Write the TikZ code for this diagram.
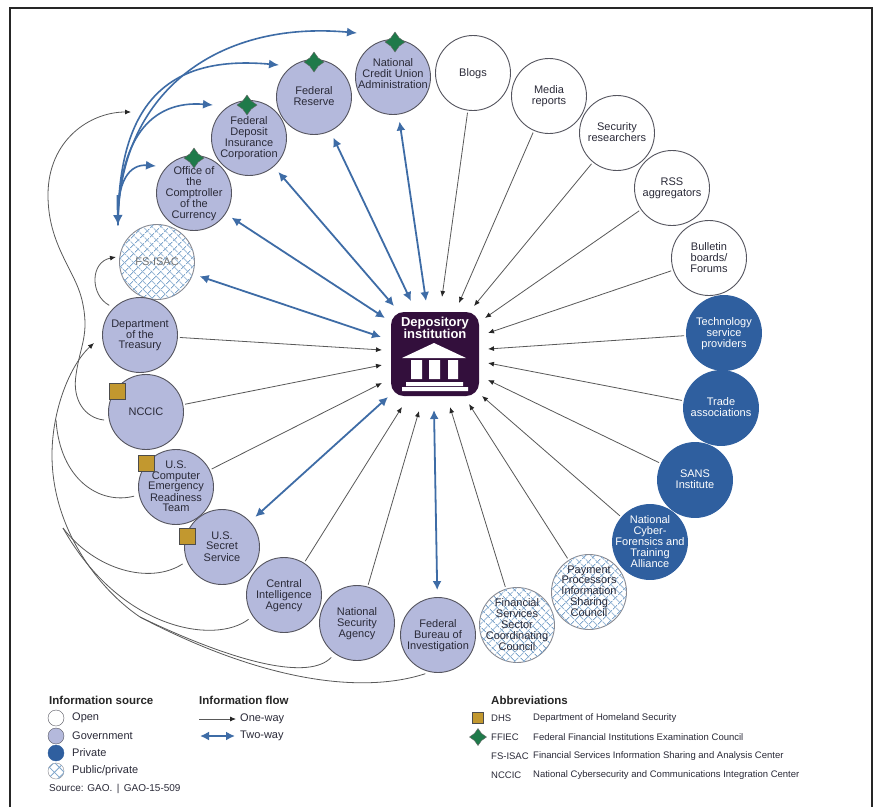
\documentclass[tikz,border=0pt]{standalone}
\usepackage{fontspec}
\setmainfont{Liberation Sans}
\usetikzlibrary{arrows.meta,shapes.geometric,patterns.meta}
\definecolor{govc}{HTML}{B4B9DC}
\definecolor{privc}{HTML}{2F5F9F}
\definecolor{twoc}{HTML}{3E6CA6}
\definecolor{hatchc}{HTML}{7FA6CC}
\definecolor{rimc}{HTML}{55555F}
\definecolor{goldc}{HTML}{C2982F}
\definecolor{greenc}{HTML}{1F7A4A}
\definecolor{boxc}{HTML}{330F3C}
\definecolor{inkc}{HTML}{2A2A38}
% text that does not widen the circle it sits in
\newcommand{\ct}[1]{\smash{\makebox[0pt]{\raisebox{-3.5pt}{\begin{tabular}{@{}c@{}}#1\end{tabular}}}}}
\tikzset{
  x=1pt,y=-1pt,
  src/.style={circle,draw=rimc,line width=.9pt,minimum size=75pt,inner sep=0pt,text=inkc,
    font=\fontsize{11}{10.4}\selectfont},
  openc/.style={src,fill=white},
  gov/.style={src,fill=govc},
  priv/.style={src,fill=privc,draw=privc,text=white},
  hatched/.style={src,fill=white,draw=rimc!70,
    postaction={pattern={Lines[angle=45,distance=6.5pt,line width=.8pt]},pattern color=hatchc},
    postaction={pattern={Lines[angle=-45,distance=6.5pt,line width=.8pt]},pattern color=hatchc}},
  oneway/.style={draw=black!65,line width=.8pt,-{Latex[length=6pt,width=5pt,black!85]},shorten <=2pt},
  curve/.style={oneway,shorten <=5pt},
  plaincurve/.style={draw=black!65,line width=.8pt,shorten <=5pt},
  twoway/.style={draw=twoc,line width=1.8pt,{Latex[length=9pt,width=9pt]}-{Latex[length=9pt,width=9pt]},shorten <=0pt},
  fanarrow/.style={draw=twoc,line width=1.6pt,-{Latex[length=10pt,width=9pt]}},
  dhs/.style={rectangle,draw=black!70,fill=goldc,line width=1pt,minimum size=16pt,inner sep=0pt},
  ffiec/.style={star,star points=4,star point ratio=1.7,draw=black!60,fill=greenc,line width=.4pt,minimum size=20pt,inner sep=0pt},
  lab/.style={anchor=west,inner sep=0pt,text=inkc,font=\fontsize{11}{12}\selectfont},
  head/.style={anchor=west,inner sep=0pt,text=black!85,font=\fontsize{11.5}{12}\selectfont\bfseries},
  abbr/.style={anchor=west,inner sep=0pt,text=inkc,font=\fontsize{9.5}{11}\selectfont},
}
\begin{document}
\begin{tikzpicture}
\useasboundingbox (0,0) rectangle (875,807);
\fill[white] (0,0) rectangle (875,807);
\draw[black!85,line width=2.4pt] (10,807) -- (10,8) -- (872,8) -- (872,807);

% centre
\node[rectangle,rounded corners=13pt,fill=boxc,minimum width=88pt,minimum height=84pt,inner sep=0pt] (box) at (435,354) {};
\node[text=white,align=center,inner sep=0pt,font=\fontsize{13}{12.5}\selectfont\bfseries] (boxlabel) at (435,328) {Depository\\institution};
\fill[white] (434,343) -- (466,358) -- (402,358) -- cycle;
\fill[white] (411,360) rectangle (422,379) (429,360) rectangle (440,379) (448,360) rectangle (458,379);
\fill[white] (406,382) rectangle (463,386) (402,387) rectangle (468,391);

% sources
\node[gov] (ncua) at (393,77) {\ct{National\\Credit Union\\Administration\\[5pt]}};
\node[gov] (fed) at (314,97) {\ct{Federal\\Reserve}};
\node[gov] (fdic) at (249,138) {\ct{Federal\\Deposit\\Insurance\\Corporation}};
\node[gov] (occ) at (194,193) {\ct{Office of\\the\\Comptroller\\of the\\Currency}};
\node[hatched,text=black!55] (fsisac) at (157,262) {\ct{FS-ISAC}};
\node[gov] (treasury) at (140,335) {\ct{Department\\of the\\Treasury}};
\node[gov] (nccic) at (146,412) {\ct{NCCIC}};
\node[gov] (cert) at (176,487) {\ct{U.S.\\Computer\\Emergency\\Readiness\\Team}};
\node[gov] (usss) at (222,547) {\ct{U.S.\\Secret\\Service}};
\node[gov] (cia) at (284,595) {\ct{Central\\Intelligence\\Agency}};
\node[gov] (nsa) at (357,623) {\ct{National\\Security\\Agency}};
\node[gov] (fbi) at (438,635) {\ct{Federal\\Bureau of\\Investigation}};
\node[hatched] (fsscc) at (517,625) {\ct{Financial\\Services\\Sector\\Coordinating\\Council}};
\node[hatched] (ppisc) at (589,592) {\ct{Payment\\Processors\\Information\\Sharing\\Council}};
\node[priv] (ncfta) at (650,542) {\ct{National\\Cyber-\\Forensics and\\Training\\Alliance}};
\node[priv] (sans) at (695,480) {\ct{SANS\\Institute}};
\node[priv] (trade) at (721,408) {\ct{Trade\\associations}};
\node[priv] (tech) at (724,333) {\ct{Technology\\service\\providers}};
\node[openc] (bulletin) at (709,258) {\ct{Bulletin\\boards/\\Forums}};
\node[openc] (rss) at (672,188) {\ct{RSS\\aggregators}};
\node[openc] (security) at (617,133) {\ct{Security\\researchers}};
\node[openc] (media) at (549,96) {\ct{Media\\reports}};
\node[openc] (blogs) at (473,73) {\ct{Blogs}};

% markers
\node[ffiec] (s1) at (194,158) {};
\node[ffiec] (s2) at (247,105) {};
\node[ffiec] (s3) at (314,62) {};
\node[ffiec] (s4) at (395,42) {};
\node[dhs] (d1) at (117,391) {};
\node[dhs] (d2) at (146,463) {};
\node[dhs] (d3) at (187,536) {};

% arrow ends near the centre box
\coordinate (tBlogs) at (442,297);
\coordinate (tMedia) at (459,303);
\coordinate (tSecurity) at (474,306);
\coordinate (tRss) at (485,318);
\coordinate (tBulletin) at (488,333);
\coordinate (tTech) at (488,349);
\coordinate (tTrade) at (488,363);
\coordinate (tSans) at (488,380);
\coordinate (tNcfta) at (482,396);
\coordinate (tPpisc) at (469,404);
\coordinate (tFsscc) at (450,407);
\coordinate (tFbi) at (434,410);
\coordinate (tNsa) at (419,411);
\coordinate (tCia) at (402,407);
\coordinate (tUsss) at (388,397);
\coordinate (tCert) at (382,383);
\coordinate (tNccic) at (382,365);
\coordinate (tTreasury) at (382,350);
\coordinate (tFsisac) at (381,337);
\coordinate (tOcc) at (385,318);
\coordinate (tFdic) at (394,306);
\coordinate (tFed) at (411,301);
\coordinate (tNcua) at (426,301);

% one-way
\foreach \a/\b in {blogs/tBlogs,media/tMedia,security/tSecurity,rss/tRss,bulletin/tBulletin,tech/tTech,trade/tTrade,sans/tSans,ncfta/tNcfta,ppisc/tPpisc,fsscc/tFsscc,nsa/tNsa,cia/tCia,cert/tCert,nccic/tNccic,treasury/tTreasury}
  \draw[oneway] (\a) -- (\b);

% two-way
\foreach \a/\b in {ncua/tNcua,fed/tFed,fdic/tFdic,occ/tOcc,fsisac/tFsisac,usss/tUsss,fbi/tFbi}
  \draw[twoway,shorten <=7pt] (\a) -- (\b);

% FFIEC fan
\coordinate (fan) at (118,225);
\coordinate (fanOcc) at (156,166);
\coordinate (fanFdic) at (213,105);
\coordinate (fanFed) at (279,65);
\coordinate (fanNcua) at (357,33);
\draw[fanarrow] (fan) .. controls (116,180) and (130,164) .. (fanOcc);
\draw[fanarrow] (fan) .. controls (118,140) and (150,100) .. (fanFdic);
\draw[fanarrow] (fan) .. controls (118,100) and (170,55) .. (fanFed);
\draw[fanarrow] (fan) .. controls (118,95) and (215,20) .. (fanNcua);
\draw[twoc,line width=2pt,-{Latex[length=10pt,width=10pt]}] (117.5,195) -- (fan);

% black curves
\coordinate (tLoop) at (131,112);
\coordinate (tIsac) at (116,257);
\coordinate (tTrunk) at (94,343);
\draw[curve] (nccic.193) .. controls (85,418) and (72,400) .. (76,375) .. controls (80,345) and (90,335) .. (82,300) .. controls (75,270) and (48,245) .. (48,195) .. controls (48,140) and (90,112) .. (tLoop);
\draw[curve] (treasury.134) .. controls (90,295) and (90,262) .. (tIsac);
\draw[curve] (fbi.258) .. controls (360,695) and (260,680) .. (140,617) .. controls (100,590) and (52,530) .. (52,455) .. controls (52,410) and (70,365) .. (tTrunk);
\coordinate (jA) at (140,617);
\coordinate (jB) at (63,528);
\coordinate (jC) at (56,420);
\draw[plaincurve] (nsa.234) .. controls (310,680) and (240,665) .. (jA);
\draw[plaincurve] (cia.214) .. controls (215,645) and (120,630) .. (jB);
\draw[plaincurve] (usss.202) .. controls (150,585) and (95,570) .. (jB);
\draw[plaincurve] (cert.192) .. controls (100,505) and (60,480) .. (jC);

% legend
\node[head] (h1) at (49,700) {Information source};
\node[circle,draw=rimc,fill=white,minimum size=16pt,inner sep=0pt] (l1) at (56,718) {};
\node[circle,draw=rimc,fill=govc,minimum size=16pt,inner sep=0pt] (l2) at (56,736) {};
\node[circle,draw=privc,fill=privc,minimum size=16pt,inner sep=0pt] (l3) at (56,753) {};
\node[circle,draw=rimc!70,fill=white,minimum size=16pt,inner sep=0pt,
  postaction={pattern={Lines[angle=45,distance=7pt,line width=.8pt]},pattern color=hatchc},
  postaction={pattern={Lines[angle=-45,distance=7pt,line width=.8pt]},pattern color=hatchc}] (l4) at (56,771) {};
\node[lab] (t1) at (72,718) {Open};
\node[lab] (t2) at (72,736) {Government};
\node[lab] (t3) at (72,753) {Private};
\node[lab] (t4) at (72,771) {Public/private};
\node[abbr,font=\fontsize{10}{11}\selectfont] (srcline) at (49,789) {Source: GAO. \,|\, GAO-15-509};
\node[head] (h2) at (199,700) {Information flow};
\node[lab] (oneLabel) at (240,719) {One-way};
\node[lab] (twoLabel) at (240,736) {Two-way};
\coordinate (oneStart) at (199,719);
\coordinate (oneEnd) at (236,719);
\coordinate (twoStart) at (200,736);
\coordinate (twoEnd) at (235,736);
\draw[oneway,shorten <=0pt] (oneStart) -- (oneEnd);
\draw[twoway] (twoStart) -- (twoEnd);
\node[head] (h3) at (491,700) {Abbreviations};
\node[dhs,minimum size=11pt] (ld) at (478,718) {};
\node[ffiec,minimum size=17pt] (ls) at (478,737) {};
\node[abbr] (a1) at (491,718) {DHS};
\node[abbr] (b1) at (533,718) {Department of Homeland Security};
\node[abbr] (a2) at (491,737) {FFIEC};
\node[abbr] (b2) at (533,737) {Federal Financial Institutions Examination Council};
\node[abbr] (a3) at (491,756) {FS-ISAC};
\node[abbr] (b3) at (533,756) {Financial Services Information Sharing and Analysis Center};
\node[abbr] (a4) at (491,775) {NCCIC};
\node[abbr] (b4) at (533,775) {National Cybersecurity and Communications Integration Center};
\end{tikzpicture}
\end{document}
